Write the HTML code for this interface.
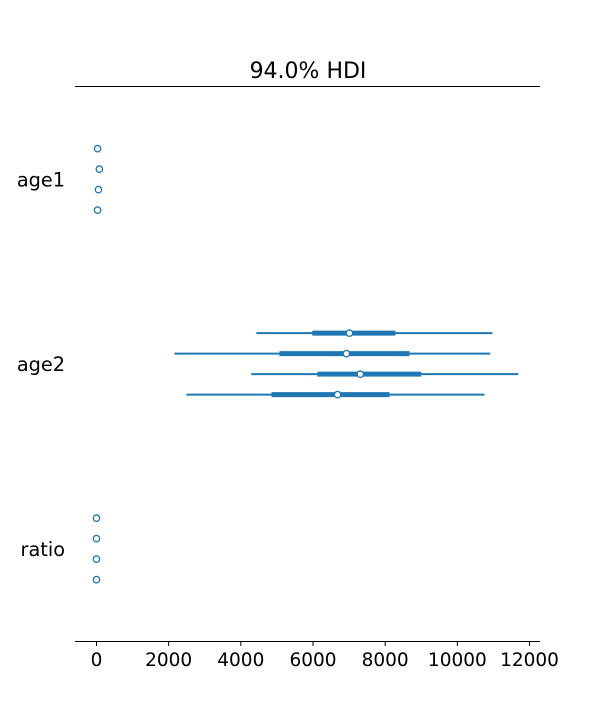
<!DOCTYPE html>
<html><head><meta charset="utf-8"><style>
html,body{margin:0;padding:0;background:#fff;}
svg{display:block;font-family:"DejaVu Sans","Liberation Sans",sans-serif;}
</style></head><body>
<svg id="chart" width="600" height="720">
<text x="308" y="78" text-anchor="middle" font-size="22" fill="#000">94.0% HDI</text>
<line x1="75" x2="540" y1="86.5" y2="86.5" stroke="#000" stroke-width="1"/>
<line x1="75" x2="540" y1="641.5" y2="641.5" stroke="#000" stroke-width="1"/>
<g id="ticks"></g>
<g id="labels"></g>
<g id="marks"></g>
</svg>
<script>
const variables = ["age1","age2","ratio"];
const tickValues = [0,2000,4000,6000,8000,10000,12000];
const tickLabels = ["0","2000","4000","6000","8000","10000","12000"];
// per chain: [hdiLow, iqrLow, mean, iqrHigh, hdiHigh]
const age1Chains = [[20,25,30,35,40],[75,78,80,82,85],[50,52,55,58,60],[25,28,30,32,35]];
const age2Chains = [[4430,5980,7010,8280,10970],[2160,5070,6925,8670,10910],[4290,6120,7310,9000,11690],[2490,4850,6680,8120,10750]];
const ratioChains = [[0,0,0,0,0],[0,0,0,0,0],[0,0,0,0,0],[0,0,0,0,0]];
const allChains = [age1Chains, age2Chains, ratioChains];

const NS="http://www.w3.org/2000/svg";
const X0=-595, X1=12290, PX0=75, PX1=540;
function xs(v){return PX0+(v-X0)/(X1-X0)*(PX1-PX0);}
const groupCenters=[179.4,363.9,548.9];
function ys(g,c){return groupCenters[g]-30.75+c*20.5;}
function mk(tag,attrs,parent){const e=document.createElementNS(NS,tag);for(const k in attrs)e.setAttribute(k,attrs[k]);parent.appendChild(e);return e;}

const ticksG=document.getElementById('ticks');
tickValues.forEach((v,i)=>{
  const t=mk('line',{x1:xs(v),x2:xs(v),y1:641.5,y2:646,stroke:'#000','stroke-width':1},ticksG);
  
  
  const l=mk('text',{x:xs(v),y:666,'text-anchor':'middle','font-size':18.5,fill:'#000'},ticksG);
  l.textContent=tickLabels[i];
  
  
});
const labG=document.getElementById('labels');
variables.forEach((name,g)=>{
  const l=mk('text',{x:65,y:groupCenters[g]+7,'text-anchor':'end','font-size':19.3,fill:'#000'},labG);
  l.textContent=name;
  
  
});
const mG=document.getElementById('marks');
allChains.forEach((chains,g)=>{
  chains.forEach((d,c)=>{
    const y=ys(g,c);
    const hl=mk('line',{x1:xs(d[0]),x2:xs(d[4]),y1:y,y2:y,stroke:'#1f77b4','stroke-width':2},mG);
    
    
    const iq=mk('line',{x1:xs(d[1]),x2:xs(d[3]),y1:y,y2:y,stroke:'#1f77b4','stroke-width':5},mG);
    
    
    const p=mk('circle',{cx:xs(d[2]),cy:y,r:3.2,fill:'#fff',stroke:'#1f77b4','stroke-width':1.3},mG);
    
    
  });
});
</script>
</body></html>
